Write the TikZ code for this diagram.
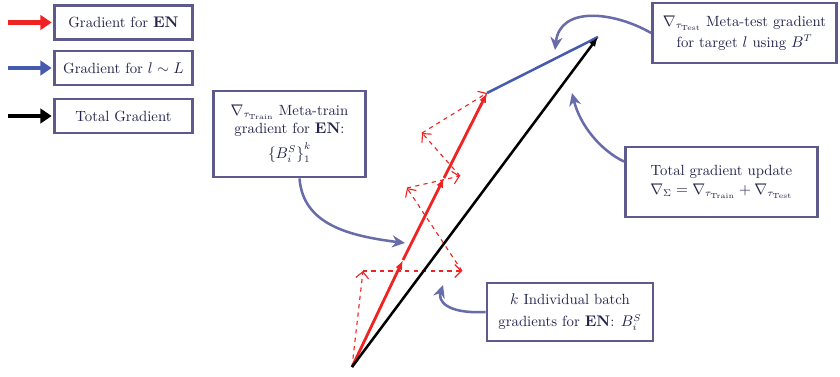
\documentclass[tikz,border=0pt]{standalone}
\usepackage{amsmath,amssymb}
\usepackage{xcolor}
\usepackage{tikz}
\usetikzlibrary{positioning,arrows.meta,calc}
\definecolor{frm}{RGB}{95,90,140}
\definecolor{ink}{RGB}{35,35,75}
\definecolor{gen}{RGB}{240,35,35}
\definecolor{gtl}{RGB}{70,90,175}
\definecolor{crv}{RGB}{105,108,170}

\begin{document}
\begin{tikzpicture}[x=0.025cm,y=-0.025cm,font=\fontsize{10.5}{13}\selectfont,>={Latex[length=2.4mm,width=1.8mm]},
  box/.style={draw=frm,line width=2pt,fill=white,text=ink,align=center,inner sep=2pt},
  leg/.style={box,minimum width=3.45cm,minimum height=0.85cm},
  legarr/.style={-{Triangle[length=2.8mm,width=3.6mm]},line width=3pt,shorten >=1pt},
  pnt/.style={crv,line width=1.8pt,-{Stealth[length=3.2mm,width=3mm]}},
  dsh/.style={gen,dashed,line width=0.8pt,-{Straight Barb[length=1.6mm]}},
  sol/.style={gen,line width=2pt,->}]
  \useasboundingbox (0,0) rectangle (840,376);
  % legend
  \node[leg] (l1) at (123.5,22.5) {Gradient for $\mathbf{EN}$};
  \node[leg] (l2) at (123.5,68) {Gradient for $l\sim L$};
  \node[leg] (l3) at (123.5,116) {Total Gradient};
  \coordinate (a1) at (8,22.5);
  \coordinate (a2) at (8,68);
  \coordinate (a3) at (8,116);
  \draw[legarr,gen] (a1) -- (l1.west);
  \draw[legarr,gtl] (a2) -- (l2.west);
  \draw[legarr,black] (a3) -- (l3.west);
  % gradient steps
  \coordinate (O) at (352,367);
  \coordinate (A) at (363,271);
  \coordinate (B) at (462,271);
  \coordinate (C) at (407,188);
  \coordinate (D) at (460,176);
  \coordinate (E) at (422,133);
  \coordinate (F) at (487,93);
  \coordinate (P1) at (403,260);
  \coordinate (P2) at (444,178);
  \coordinate (T) at (598,37);
  \draw[dsh] (O) -- (A);
  \draw[dsh] (A) -- (B);
  \draw[dsh] (B) -- (C);
  \draw[dsh] (C) -- (D);
  \draw[dsh] (D) -- (E);
  \draw[dsh] (E) -- (F);
  \draw[gtl,line width=1.8pt] (F) -- (T);
  \draw[sol] (O) -- (P1);
  \draw[sol] (P1) -- (P2);
  \draw[sol] (P2) -- (F);
  \draw[black,line width=1.8pt,->] (O) -- (T);
  % callouts
  \node[box,minimum width=3.8cm,minimum height=2.15cm] (tr) at (289.5,134)
    {$\nabla_{\tau_{\text{Train}}}$ Meta-train\\ gradient for $\mathbf{EN}$:\\[3pt] $\left\{B_i^S\right\}_1^k$};
  \node[box,minimum width=4.6cm,minimum height=1.5cm] (te) at (744.5,33)
    {$\nabla_{\tau_{\text{Test}}}$ Meta-test gradient\\[2pt] for target $l$ using $B^T$};
  \node[box,minimum width=4.8cm,minimum height=1.75cm] (tot) at (721.5,182)
    {Total gradient update\\ $\nabla_\Sigma=\nabla_{\tau_{\text{Train}}}+\nabla_{\tau_{\text{Test}}}$};
  \node[box,minimum width=4.15cm,minimum height=1.45cm] (kb) at (570,312)
    {$k$ Individual batch\\[3pt] gradients for $\mathbf{EN}$: $B_i^S$};
  \coordinate (tgtr) at (405,243);
  \coordinate (tgte) at (555,50);
  \coordinate (tgtot) at (572,93);
  \coordinate (tgkb) at (443,285);
  \draw[pnt] ([xshift=0.25cm]tr.south) .. controls (303,225) and (350,236) .. (tgtr);
  \draw[pnt] (te.west) .. controls (615,12) and (560,5) .. (tgte);
  \draw[pnt] ([yshift=-0.4cm]tot.north west) .. controls (600,150) and (580,125) .. (tgtot);
  \draw[pnt] (kb.west) .. controls (445,314) and (438,300) .. (tgkb);
\end{tikzpicture}
\end{document}
